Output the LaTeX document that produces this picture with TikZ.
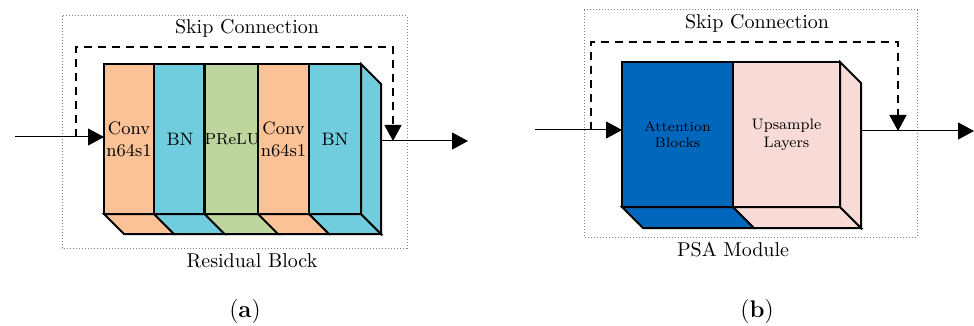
\documentclass[tikz,border=0pt]{standalone}
\usepackage{tikz}
\usetikzlibrary{arrows.meta}

\definecolor{convorange}{RGB}{250,194,150}
\definecolor{bncyan}{RGB}{111,205,222}
\definecolor{prelugreen}{RGB}{190,214,158}
\definecolor{attblue}{RGB}{0,103,189}
\definecolor{uppink}{RGB}{248,219,215}

\tikzset{
	layer/.style={draw=black,line width=1.3pt,inner sep=0pt,outer sep=0pt,
		align=center,font=\small,text=black},
	face/.style={draw=black,line width=1pt,line join=miter},
	frame/.style={draw=gray,densely dotted,line width=0.5pt},
	skip/.style={dash pattern=on 4pt off 3pt,line width=0.6pt,draw=black}
}

\begin{document}
\begin{tikzpicture}[x=0.5pt,y=-0.5pt]
	\useasboundingbox (0,0) rectangle (974,326);

	% (a) residual block
	\draw[frame] (62,16) rectangle (407,248);
	\node (skipa) at (247,28) {Skip Connection};
	\node (resblock) at (252,261) {Residual Block};
	\node (capa) at (245,312) {\large({\bfseries a})};

	\begin{scope}[every node/.style={layer,minimum height=75pt}]
		\node[fill=convorange,minimum width=25pt] (conv1) at (129,139) {Conv\\n64s1};
		\node[fill=bncyan,minimum width=26pt] (bn1) at (180,139) {BN};
		\node[fill=prelugreen,minimum width=26pt,font=\footnotesize] (prelu) at (232,139) {PReLU};
		\node[fill=convorange,minimum width=25.5pt] (conv2) at (283.5,139) {Conv\\n64s1};
		\node[fill=bncyan,minimum width=26pt] (bn2) at (335,139) {BN};
	\end{scope}

	% depth faces
	\draw[face,fill=convorange] (conv1.south west) -- (conv1.south east) -- ++(20,20) -- ([shift={(20,20)}]conv1.south west) -- cycle;
	\draw[face,fill=bncyan] (bn1.south west) -- (bn1.south east) -- ++(20,20) -- ([shift={(20,20)}]bn1.south west) -- cycle;
	\draw[face,fill=prelugreen] (prelu.south west) -- (prelu.south east) -- ++(20,20) -- ([shift={(20,20)}]prelu.south west) -- cycle;
	\draw[face,fill=convorange] (conv2.south west) -- (conv2.south east) -- ++(20,20) -- ([shift={(20,20)}]conv2.south west) -- cycle;
	\draw[face,fill=bncyan] (bn2.south west) -- (bn2.south east) -- ++(20,20) -- ([shift={(20,20)}]bn2.south west) -- cycle;
	\draw[face,fill=bncyan] (bn2.north east) -- ++(20,20) -- ++(0,150) -- (bn2.south east) -- cycle;

	\coordinate (ina) at (15,137);
	\coordinate (skipina) at (76,137);
	\coordinate (skiptopa) at (393,47);
	\coordinate (outstarta) at (381,141);
	\coordinate (outa) at (468,141);

	\begin{scope}[>={Triangle[length=8pt,width=8.5pt]}]
		\draw[->,line width=0.5pt] (ina) -- (ina -| conv1.west);
		\draw[->,line width=0.5pt] (outstarta) -- (outa);
		\draw[skip,->] (skipina) |- (skiptopa) -- (skiptopa |- outa);
	\end{scope}

	% (b) PSA module
	\draw[frame] (584,10) rectangle (917,237);
	\node (skipb) at (757,23) {Skip Connection};
	\node (psamodule) at (733,250) {PSA Module};
	\node (capb) at (757,312) {\large({\bfseries b})};

	\begin{scope}[every node/.style={layer,minimum height=72.5pt}]
		\node[fill=attblue,minimum width=55.5pt,font=\scriptsize] (attn) at (677.5,134.5) {Attention\\Blocks};
		\node[fill=uppink,minimum width=53.5pt,font=\fontsize{7.6}{9}\selectfont] (upsample) at (786.5,134.5) {Upsample\\Layers};
	\end{scope}

	% depth faces
	\draw[face,fill=attblue] (attn.south west) -- (attn.south east) -- ++(21,21) -- ([shift={(21,21)}]attn.south west) -- cycle;
	\draw[face,fill=uppink] (upsample.south west) -- (upsample.south east) -- ++(21,21) -- ([shift={(21,21)}]upsample.south west) -- cycle;
	\draw[face,fill=uppink] (upsample.north east) -- ++(21,21) -- ++(0,145) -- (upsample.south east) -- cycle;

	\coordinate (inb) at (535,130);
	\coordinate (skipinb) at (591,130);
	\coordinate (skiptopb) at (898,42);
	\coordinate (outstartb) at (861,131);
	\coordinate (outb) at (974,131);

	\begin{scope}[>={Triangle[length=8pt,width=8.5pt]}]
		\draw[->,line width=0.5pt] (inb) -- (inb -| attn.west);
		\draw[->,line width=0.5pt] (outstartb) -- (outb);
		\draw[skip,->] (skipinb) |- (skiptopb) -- (skiptopb |- outb);
	\end{scope}
\end{tikzpicture}
\end{document}
